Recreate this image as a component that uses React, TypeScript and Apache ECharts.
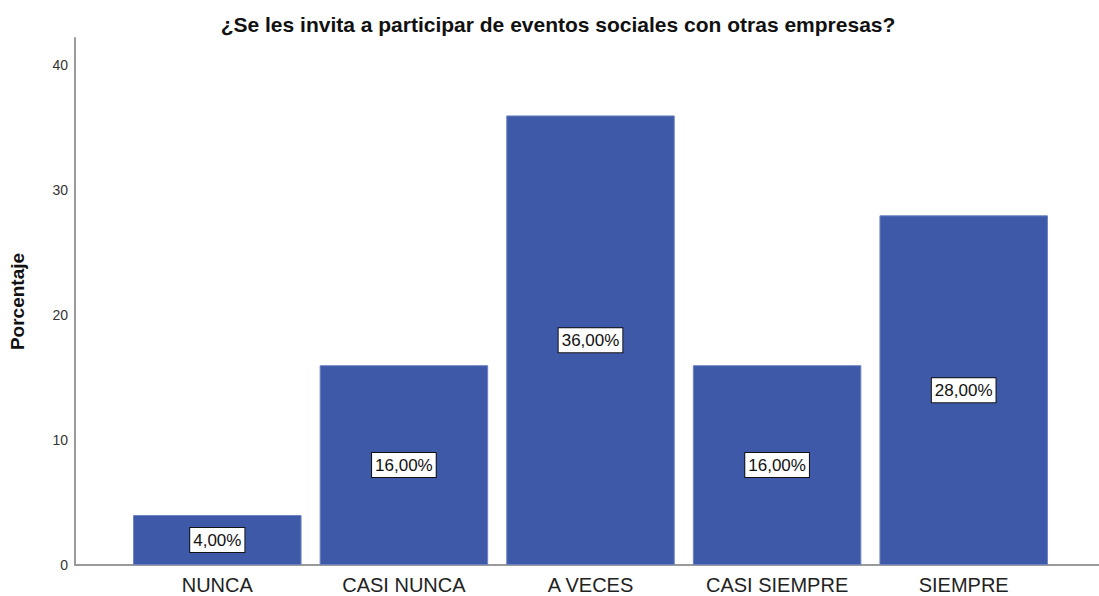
import React, { useEffect, useRef } from "react";
import * as echarts from "echarts";

const categories = ["NUNCA", "CASI NUNCA", "A VECES", "CASI SIEMPRE", "SIEMPRE"];
const values = [4, 16, 36, 16, 28];
const yTicks = [0, 10, 20, 30, 40];
const titleText = "¿Se les invita a participar de eventos sociales con otras empresas?";
const yName = "Porcentaje";

const FONT = "'Liberation Sans', Arial, sans-serif";

export default function App() {
  const ref = useRef<HTMLDivElement>(null);
  useEffect(() => {
    if (!ref.current) return;
    const chart = echarts.init(ref.current, undefined, { renderer: "svg" });
    const axisColor = "#9a9a9a";
    chart.setOption({
      animation: false,
      backgroundColor: "#ffffff",
      title: {
        text: titleText,
        left: 553,
        textAlign: "center",
        top: 9,
        textStyle: { fontFamily: FONT, fontSize: 21, fontWeight: "bold", color: "#111" },
      },
      grid: [
        { left: 124, right: 42, top: 38, bottom: 31 },
        { left: 72, right: 0, top: 38, bottom: 31 },
      ],
      xAxis: [
        {
          type: "category",
          gridIndex: 0,
          data: categories,
          axisLine: { show: false },
          axisTick: { show: false },
          axisLabel: { fontFamily: FONT, fontSize: 20, color: "#222", margin: 10 },
        },
        {
          type: "category",
          gridIndex: 1,
          data: [""],
          axisLine: { show: true, lineStyle: { color: axisColor, width: 2 } },
          axisTick: { show: false },
          axisLabel: { show: false },
        },
      ],
      yAxis: [
        {
          type: "value",
          gridIndex: 0,
          min: 0,
          max: 42.2,
          interval: 10,
          show: false,
          splitLine: { show: false },
        },
        {
          type: "value",
          gridIndex: 1,
          min: 0,
          max: 42.2,
          interval: 10,
          name: yName,
          nameLocation: "middle",
          nameGap: 48,
          nameTextStyle: { fontFamily: FONT, fontSize: 19, fontWeight: "bold", color: "#111" },
          axisLine: { show: true, lineStyle: { color: axisColor, width: 2 } },
          axisTick: { show: false },
          splitLine: { show: false },
          axisLabel: {
            fontFamily: FONT,
            fontSize: 14,
            color: "#333",
            margin: 7,
            formatter: (v: number) => (yTicks.includes(v) ? String(v) : ""),
          },
        },
      ],
      series: [
        {
          type: "bar",
          xAxisIndex: 0,
          yAxisIndex: 0,
          data: values,
          barCategoryGap: "9.7%",
          itemStyle: { color: "#3e59a8", borderColor: "#6d82c2", borderWidth: 1 },
          label: {
            show: true,
            position: "inside",
            formatter: (p: any) => p.value.toFixed(2).replace(".", ",") + "%",
            fontFamily: FONT,
            fontSize: 17,
            color: "#111",
            backgroundColor: "#ffffff",
            borderColor: "#111",
            borderWidth: 1,
            padding: [4, 3, 3, 3],
          },
        },
      ],
    });
    return () => chart.dispose();
  }, []);
  return <div ref={ref} style={{ width: 1099, height: 596, position: "absolute", left: 0, top: 0 }} />;
}
